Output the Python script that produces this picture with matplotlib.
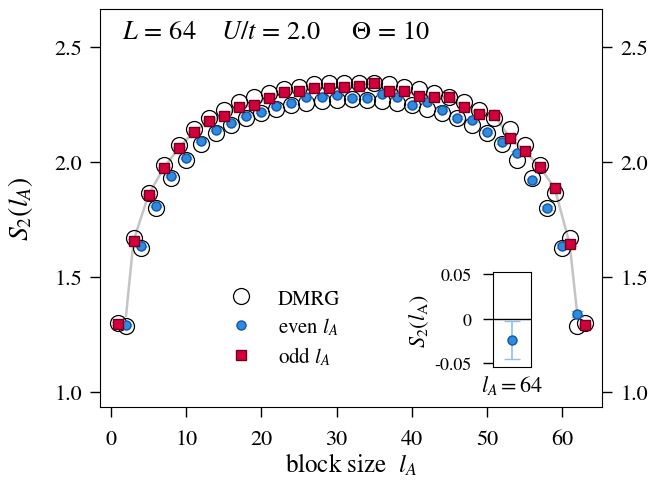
import matplotlib
matplotlib.use("Agg")
import matplotlib.pyplot as plt
from matplotlib.lines import Line2D

plt.rcParams['font.family'] = ['STIXGeneral', 'DejaVu Serif']
plt.rcParams['mathtext.fontset'] = 'stix'

# DMRG reference, l_A = 1..63
dmrg_l = list(range(1, 64))
dmrg_s = [1.300, 1.285, 1.667, 1.625, 1.865, 1.800, 1.985, 1.930, 2.072, 2.005,
          2.140, 2.075, 2.190, 2.125, 2.225, 2.160, 2.260, 2.190, 2.280, 2.210,
          2.300, 2.230, 2.315, 2.245, 2.325, 2.255, 2.335, 2.263, 2.340, 2.268,
          2.343, 2.272, 2.343, 2.268, 2.340, 2.263, 2.335, 2.255, 2.325, 2.245,
          2.315, 2.230, 2.300, 2.210, 2.280, 2.190, 2.260, 2.160, 2.225, 2.125,
          2.190, 2.075, 2.140, 2.005, 2.072, 1.930, 1.985, 1.800, 1.865, 1.625,
          1.667, 1.285, 1.300]

# QMC, odd l_A
odd_l = list(range(1, 64, 2))
odd_s = [1.296, 1.657, 1.856, 1.972, 2.059, 2.129, 2.176, 2.198, 2.237, 2.246,
         2.277, 2.303, 2.307, 2.320, 2.320, 2.324, 2.329, 2.342, 2.307, 2.307,
         2.285, 2.281, 2.281, 2.237, 2.207, 2.203, 2.103, 2.047, 1.978, 1.885,
         1.642, 1.290]
odd_err = [0.005, 0.005, 0.005, 0.005, 0.005, 0.005, 0.005, 0.005, 0.005, 0.005,
           0.005, 0.005, 0.005, 0.006, 0.006, 0.006, 0.006, 0.006, 0.006, 0.006,
           0.006, 0.006, 0.006, 0.006, 0.007, 0.007, 0.007, 0.008, 0.009, 0.010,
           0.010, 0.006]

# QMC, even l_A
even_l = list(range(2, 63, 2))
even_s = [1.290, 1.631, 1.807, 1.938, 2.016, 2.090, 2.137, 2.168, 2.198, 2.216,
          2.242, 2.255, 2.281, 2.281, 2.290, 2.277, 2.277, 2.294, 2.281, 2.244,
          2.259, 2.225, 2.190, 2.181, 2.129, 2.084, 2.038, 1.918, 1.800, 1.633,
          1.337]
even_err = [0.004, 0.004, 0.004, 0.004, 0.004, 0.005, 0.005, 0.005, 0.005, 0.005,
            0.005, 0.005, 0.006, 0.006, 0.006, 0.006, 0.006, 0.006, 0.006, 0.006,
            0.006, 0.006, 0.007, 0.007, 0.007, 0.008, 0.008, 0.008, 0.009, 0.010,
            0.012]

# grey guide line
guide_l = [2, 3, 5, 7, 9, 11, 13, 15, 17, 19, 21, 23, 25, 27, 29, 31, 33, 35,
           37, 39, 41, 43, 45, 47, 49, 51, 53, 55, 57, 59, 61, 62]
guide_s = [1.33, 1.657, 1.856, 1.972, 2.059, 2.129, 2.176, 2.198, 2.237, 2.246,
           2.277, 2.303, 2.307, 2.320, 2.320, 2.324, 2.329, 2.342, 2.307, 2.307,
           2.285, 2.281, 2.281, 2.237, 2.207, 2.203, 2.103, 2.047, 1.978, 1.885,
           1.642, 1.34]

# inset: l_A = 64
inset_x = [1]
inset_s = [-0.024]
inset_err = [0.021]

BLUE = '#2e8be0'
BLUE_EDGE = '#1256a8'
BLUE_ERR = '#8cc0f0'
RED = '#d4003c'
RED_EDGE = '#6e0020'
RED_ERR = '#ff3a68'

fig = plt.figure(figsize=(6.53, 4.81), dpi=100)
ax = fig.add_axes([100/653, 1-408/481, 502/653, 398/481])

ax.plot(guide_l, guide_s, color='#c4c4c4', lw=1.8, zorder=1)
ax.plot(dmrg_l, dmrg_s, 'o', ms=11.5, mfc='none', mec='black', mew=0.9, zorder=2)
ax.errorbar(even_l, even_s, yerr=even_err, fmt='o', ms=6.5, mfc=BLUE, mec=BLUE_EDGE,
            mew=1.0, ecolor=BLUE_ERR, elinewidth=1.2, capsize=4.5, capthick=1.2,
            zorder=3)
ax.errorbar(odd_l, odd_s, yerr=odd_err, fmt='s', ms=7, mfc=RED, mec=RED_EDGE,
            mew=1.0, ecolor=RED_ERR, elinewidth=1.2, capsize=4.5, capthick=1.2,
            zorder=4)

ax.set_xlim(-1.46, 65.3)
ax.set_ylim(0.9335, 2.663)
ax.set_xticks([0, 10, 20, 30, 40, 50, 60])
ax.set_yticks([1.0, 1.5, 2.0, 2.5])
ax.set_yticklabels(['1.0', '1.5', '2.0', '2.5'])
ax.tick_params(direction='out', length=7, width=1, labelsize=16, pad=6)
ax.tick_params(axis='y', right=True, labelright=True)
ax.tick_params(axis='x', pad=9)
ax.set_xlabel('block size  $l_A$', fontsize=18, labelpad=2)
ax.set_ylabel('$S_2(l_A)$', fontsize=20, labelpad=14)

for x0, txt in [(122, '$L\\,=\\,64$'), (221, '$U/t\\,=\\,2.0$'), (351, '$\\Theta\\,=\\,10$')]:
    ax.text((x0 - 100) / 502, (408 - 33) / 398, txt, transform=ax.transAxes,
            fontsize=19, va='center', ha='left')

handles = [Line2D([], [], ls='none', marker='o', ms=11.5, mfc='none', mec='black', mew=0.9),
           Line2D([], [], ls='none', marker='o', ms=6.5, mfc=BLUE, mec=BLUE_EDGE, mew=1.0),
           Line2D([], [], ls='none', marker='s', ms=7, mfc=RED, mec=RED_EDGE, mew=1.0)]
labels = ['DMRG', 'even $l_A$', 'odd $l_A$']
ax.legend(handles, labels, loc='center left', bbox_to_anchor=(0.255, 0.198), frameon=False,
          fontsize=15, handlelength=1.2, handletextpad=1.2, labelspacing=0.35,
          borderpad=0, borderaxespad=0)

# inset
ins = fig.add_axes([493/653, 1-368/481, 38/653, 95/481])
ins.axhline(0, color='black', lw=1)
ins.errorbar(inset_x, inset_s, yerr=inset_err, fmt='o', ms=6.5, mfc=BLUE, mec=BLUE_EDGE,
             mew=1.0, ecolor=BLUE_ERR, elinewidth=1.2, capsize=6, capthick=1.2)
ins.set_xlim(0, 2)
ins.set_ylim(-0.0545, 0.0526)
ins.set_xticks([])
ins.set_yticks([-0.05, 0, 0.05])
ins.set_yticklabels(['-0.05', '0', '0.05'])
ins.tick_params(direction='out', length=7.5, width=1, labelsize=13, pad=8)
ins.set_xlabel('$l_A = 64$', fontsize=16, labelpad=4)
ins.set_ylabel('$S_2(l_{\\rm A})$', fontsize=16, labelpad=2)

fig.savefig('out.png', dpi=100)
